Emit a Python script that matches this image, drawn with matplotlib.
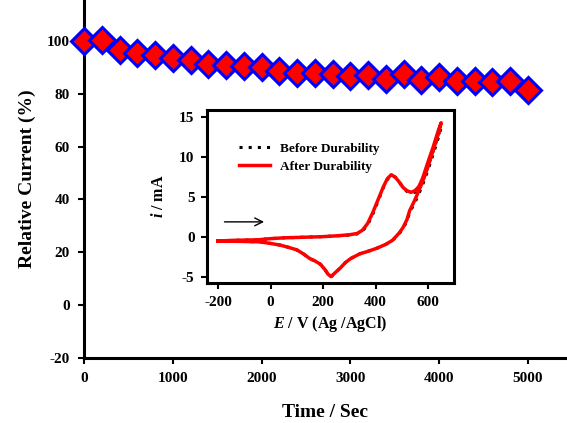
import matplotlib
matplotlib.use("Agg")
import matplotlib.pyplot as plt

plt.rcParams["font.family"] = ["Liberation Serif", "DejaVu Serif"]
plt.rcParams["font.weight"] = "bold"
plt.rcParams["axes.unicode_minus"] = False
plt.rcParams["mathtext.fontset"] = "custom"
plt.rcParams["mathtext.it"] = "Liberation Serif:italic:bold"
plt.rcParams["mathtext.rm"] = "Liberation Serif:bold"

# durability test: relative current vs time
time_s = [0, 200, 400, 600, 800, 1000, 1200, 1400, 1600, 1800, 2000, 2200, 2400,
          2600, 2800, 3000, 3200, 3400, 3600, 3800, 4000, 4200, 4400, 4600, 4800, 5000]
rel_current = [100.0, 100.2, 96.5, 95.5, 94.8, 93.6, 92.7, 91.1, 91.0, 90.7, 90.1,
               88.6, 88.0, 88.0, 87.4, 86.8, 87.0, 85.5, 87.4, 85.2, 86.2, 84.9,
               84.9, 84.3, 84.9, 81.6]

# inset CV, one full cycle (forward then reverse)
potential = [-200, -150, -100, -50, 0, 50, 100, 150, 200, 250, 300, 330, 350, 370,
             390, 410, 430, 445, 460, 475, 490, 505, 520, 535, 550, 565, 580, 600,
             620, 640, 650,
             640, 620, 600, 580, 560, 545, 530, 520, 505, 490, 465, 440, 405, 370,
             340, 305, 285, 265, 245, 230, 218, 208, 190, 170, 150, 125, 100, 70,
             36, 0, -40, -100, -150, -200]
i_after = [-0.5, -0.42, -0.38, -0.35, -0.2, -0.1, -0.05, 0.0, 0.05, 0.15, 0.28,
           0.45, 0.85, 1.7, 3.1, 4.7, 6.3, 7.3, 7.8, 7.5, 6.9, 6.2, 5.8, 5.6, 5.8,
           6.3, 7.4, 9.4, 11.3, 13.4, 14.3,
           13.0, 10.9, 8.8, 7.0, 5.4, 4.3, 3.3, 2.2, 1.2, 0.5, -0.4, -0.9, -1.4,
           -1.8, -2.1, -2.7, -3.2, -3.9, -4.5, -4.95, -4.6, -4.1, -3.4, -3.0, -2.7,
           -2.1, -1.6, -1.3, -1.0, -0.8, -0.6, -0.55, -0.52, -0.5]
i_before = [-0.5, -0.42, -0.38, -0.35, -0.2, -0.1, -0.05, 0.0, 0.05, 0.15, 0.25,
            0.4, 0.75, 1.5, 2.9, 4.5, 6.2, 7.2, 7.7, 7.5, 6.9, 6.2, 5.7, 5.5, 5.6,
            6.0, 7.0, 8.9, 10.8, 12.8, 13.7,
            12.5, 10.4, 8.4, 6.6, 5.0, 4.0, 3.1, 2.0, 1.1, 0.4, -0.4, -0.9, -1.4,
            -1.8, -2.1, -2.7, -3.2, -3.9, -4.5, -5.0, -4.6, -4.1, -3.4, -3.0, -2.7,
            -2.1, -1.6, -1.3, -1.0, -0.8, -0.6, -0.55, -0.52, -0.5]

fig = plt.figure(figsize=(5.67, 4.23), dpi=100)
ax = fig.add_axes([84 / 567, 65 / 423, 483 / 567, 358 / 423])
ax.plot(time_s, rel_current, linestyle="none", marker="D", markersize=13,
        markerfacecolor="red", markeredgecolor="blue", markeredgewidth=2.2,
        clip_on=False, zorder=5)
ax.set_xlim(0, 5440)
ax.set_ylim(-20, 115.5)
ax.set_xticks(range(0, 5001, 1000))
ax.set_yticks(range(-20, 101, 20))
for side in ["top", "right"]:
    ax.spines[side].set_visible(False)
for side in ["left", "bottom"]:
    ax.spines[side].set_linewidth(2.2)
ax.tick_params(direction="out", length=4, width=1.5, labelsize=11, pad=6)
ax.set_xlabel("Time / Sec", fontsize=14, fontweight="bold", labelpad=14)
ax.set_ylabel("Relative Current (%)", fontsize=14, fontweight="bold", labelpad=8)

# inset
ins = fig.add_axes([207 / 567, 140 / 423, 247 / 567, 173 / 423])
ins.plot(potential, i_before, color="black", linestyle=(0, (1, 2)), linewidth=2.2,
         label="Before Durability", zorder=2)
ins.plot(potential, i_after, color="red", linewidth=2.5,
         label="After Durability", zorder=3)
ins.annotate("", xy=(-14, 1.9), xytext=(-186, 1.9),
             arrowprops=dict(arrowstyle="->", color="black", lw=1, mutation_scale=14))
ins.set_xlim(-242, 699)
ins.set_ylim(-5.75, 15.9)
ins.set_xticks([-200, 0, 200, 400, 600])
ins.set_yticks([-5, 0, 5, 10, 15])
for side in ins.spines:
    ins.spines[side].set_linewidth(2.2)
ins.tick_params(direction="out", length=4, width=1.5, labelsize=11, pad=5)
ins.set_xlabel("$E$ / V (Ag /AgCl)", fontsize=11.5, fontweight="bold", labelpad=4)
ins.set_ylabel("$i$ / mA", fontsize=11.5, fontweight="bold", labelpad=9)
ins.legend(loc="upper left", bbox_to_anchor=(0.08, 0.88), frameon=False,
           handlelength=2.4, handletextpad=0.7, labelspacing=0.45,
           prop={"weight": "bold", "size": 9.5})

fig.savefig("out.png", dpi=100)
